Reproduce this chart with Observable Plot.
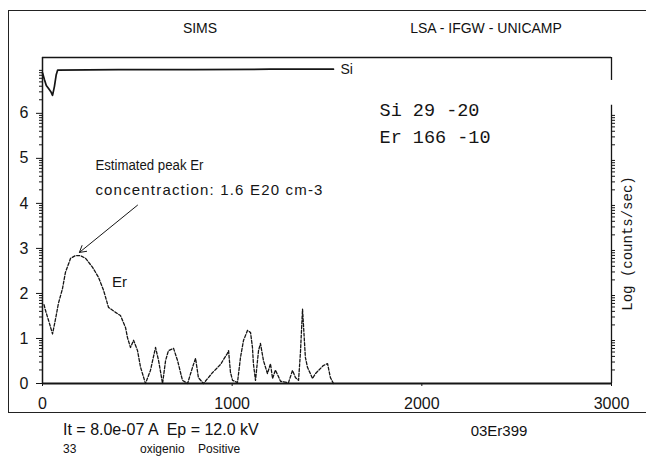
<!DOCTYPE html>
<html>
<head>
<meta charset="utf-8">
<script src="https://cdn.jsdelivr.net/npm/d3@7"></script>
<script src="https://cdn.jsdelivr.net/npm/@observablehq/plot@0.6"></script>
<style>
  html, body { margin: 0; padding: 0; background: #fff; }
  #page { position: relative; width: 646px; height: 457px; overflow: hidden; background: #fff;
          font-family: "Liberation Sans", Arial, sans-serif; color: #111; }
  #outer { position: absolute; left: 8px; top: 10px; width: 700px; height: 403px;
           border: 1.5px solid #222; box-sizing: border-box; }
  .lbl { position: absolute; white-space: pre; line-height: 1; transform: translate(0, -50%); }
  .ctr { transform: translate(-50%, -50%); }
  #chart { position: absolute; left: 0; top: 0; }
</style>
</head>
<body>
<div id="page">
  <div id="outer"></div>
  <div class="lbl ctr" style="left:200px; top:28px; font-size:14px;">SIMS</div>
  <div class="lbl ctr" style="left:486px; top:28px; font-size:14px;">LSA - IFGW - UNICAMP</div>
  <div class="lbl" style="left:63px; top:430px; font-size:16px;">It = 8.0e-07 A  Ep = 12.0 kV</div>
  <div class="lbl ctr" style="left:499px; top:430px; font-size:15px;">03Er399</div>
  <div class="lbl" style="left:63px; top:449px; font-size:12px;">33</div>
  <div class="lbl" style="left:140px; top:449px; font-size:12px;">oxigenio    Positive</div>
  <div id="chart"></div>
</div>
<script>
// Er 166 depth profile: depth (nm) and log10(counts/sec)
const erDepth = [8, 16, 32, 53, 69, 84, 105, 121, 148, 174,
  200, 227, 264, 295, 322, 348, 385, 411, 438, 448,
  464, 480, 501, 517, 543, 569, 596, 612, 633, 649,
  664, 691, 712, 738, 765, 791, 807, 822, 849, 896,
  938, 975, 981, 991, 1002, 1028, 1044, 1060, 1081, 1097,
  1107, 1112, 1123, 1139, 1149, 1165, 1186, 1202, 1213, 1228,
  1255, 1297, 1318, 1334, 1350, 1360, 1371, 1386, 1397, 1424,
  1439, 1481, 1503, 1518, 1534];
const erLog = [1.75, 1.62, 1.4, 1.1, 1.44, 1.78, 2.1, 2.47, 2.78, 2.84,
  2.84, 2.78, 2.58, 2.36, 2.07, 1.69, 1.58, 1.51, 1.24, 1.02,
  0.8, 0.96, 0.73, 0.36, 0, 0.29, 0.8, 0.51, 0, 0.51,
  0.73, 0.78, 0.51, 0.07, 0, 0.36, 0.56, 0.13, 0, 0.24,
  0.42, 0.67, 0.73, 0.25, 0.07, 0.02, 0.58, 0.96, 1.18, 1.13,
  0.8, 0.44, 0.07, 0.73, 0.89, 0.51, 0.22, 0.44, 0.11, 0.3,
  0.05, 0.02, 0.29, 0.13, 0.07, 0.69, 1.65, 0.58, 0.36, 0.11,
  0.22, 0.4, 0.44, 0.13, 0];

// Si 29 matrix signal
const siDepth = [0, 10, 20, 32, 44, 53, 63, 72, 80, 400, 800, 1200, 1534];
const siLog = [6.9, 6.75, 6.62, 6.55, 6.48, 6.4, 6.6, 6.85, 6.96, 6.97, 6.97, 6.98, 6.98];

// axes
const xTicks = [0, 1000, 2000, 3000];
const yTicks = [0, 1, 2, 3, 4, 5, 6];
const yTop = 7.24;

// text placed on the plot (depth, log value)
const notes = [
  {x: 279, y: 4.84, text: "Estimated peak Er", width: 108, size: 14, adjust: "spacingAndGlyphs"},
  {x: 279, y: 4.29, text: "concentraction: 1.6 E20 cm-3", width: 227, size: 15, adjust: "spacing"}
];
const recipe = [
  {x: 1777, y: 6.07, text: "Si 29 -20"},
  {x: 1777, y: 5.47, text: "Er 166 -10"}
];
const erLabel = [{x: 406, y: 2.24, text: "Er"}];
const arrowFrom = {x: 501, y: 3.96};

const er = erDepth.map((d, i) => ({depth: d, value: erLog[i]}));
const si = siDepth.map((d, i) => ({depth: d, value: siLog[i]}));
const peak = d3.greatest(er, d => d.value);

// log-decade minor ticks
const minorLeft = [];
for (let n = 0; n < 8; n++) for (let k = 2; k <= 9; k++) {
  const v = n + Math.log10(k);
  if (v < yTop) minorLeft.push(v);
}
const minorRight = minorLeft.filter(v => v <= 6.18);

const ink = "#151515";
const mono = "Liberation Mono, DejaVu Sans Mono, monospace";

const chart = Plot.plot({
  width: 646,
  height: 457,
  marginLeft: 42,
  marginRight: 35,
  marginTop: 57,
  marginBottom: 74,
  x: {domain: [0, 3000]},
  y: {domain: [0, yTop]},
  style: {fontFamily: "Liberation Sans, Arial, sans-serif", fontSize: "16px", color: ink, background: "transparent"},
  marks: [
    Plot.axisX({ticks: xTicks, tickFormat: d => String(d), tickSize: 3, tickPadding: 11, label: null, fontSize: 16}),
    Plot.axisY({ticks: yTicks, tickSize: 6, tickPadding: 8, label: null, fontSize: 16}),
    Plot.axisY({ticks: minorLeft, tickSize: 3, text: null, label: null}),
    Plot.axisY({anchor: "right", ticks: minorRight, tickSize: 3, text: null, label: null}),
    // frame pieces
    Plot.ruleX([0], {y1: 0, y2: yTop, stroke: ink, strokeWidth: 1.5}),
    Plot.ruleY([yTop], {x1: 0, x2: 3000, stroke: ink, strokeWidth: 1.5}),
    Plot.ruleX([3000], {y1: 6.73, y2: yTop, stroke: ink, strokeWidth: 1.3}),
    Plot.ruleX([3000], {y1: 0, y2: 6.18, stroke: ink, strokeWidth: 1.3}),
    Plot.ruleY([0], {x1: 0, x2: 3000, stroke: ink, strokeWidth: 1.8}),
    // profiles
    Plot.line(er, {x: "depth", y: "value", stroke: ink, strokeWidth: 1.3, strokeDasharray: "3,1.8"}),
    Plot.line(si, {x: "depth", y: "value", stroke: ink, strokeWidth: 1.7}),
    Plot.text(si, Plot.selectLast({x: "depth", y: "value", text: () => "Si", dx: 7, textAnchor: "start", fontSize: 14})),
    Plot.text(erLabel, {x: "x", y: "y", text: "text", fontSize: 15}),
    // annotation
    Plot.text(notes, {x: "x", y: "y", text: "text", textAnchor: "start", fontSize: "size", className: "note"}),
    Plot.arrow([peak], {x1: () => arrowFrom.x, y1: () => arrowFrom.y, x2: "depth", y2: "value",
      stroke: ink, strokeWidth: 1, headLength: 11, insetEnd: 5, bend: false}),
    Plot.text(recipe, {x: "x", y: "y", text: "text", textAnchor: "start", fontFamily: mono, fontSize: 18.5}),
    Plot.text(["Log (counts/sec)"], {frameAnchor: "right", rotate: -90, textAnchor: "middle",
      dx: 16, dy: 23, fontFamily: mono, fontSize: 14})
  ]
});

// fit the two annotation lines to their set widths
d3.select(chart).selectAll("g.note text").each(function(_, i) {
  this.setAttribute("textLength", notes[i].width);
  this.setAttribute("lengthAdjust", notes[i].adjust);
});

document.getElementById("chart").append(chart);
</script>
</body>
</html>
